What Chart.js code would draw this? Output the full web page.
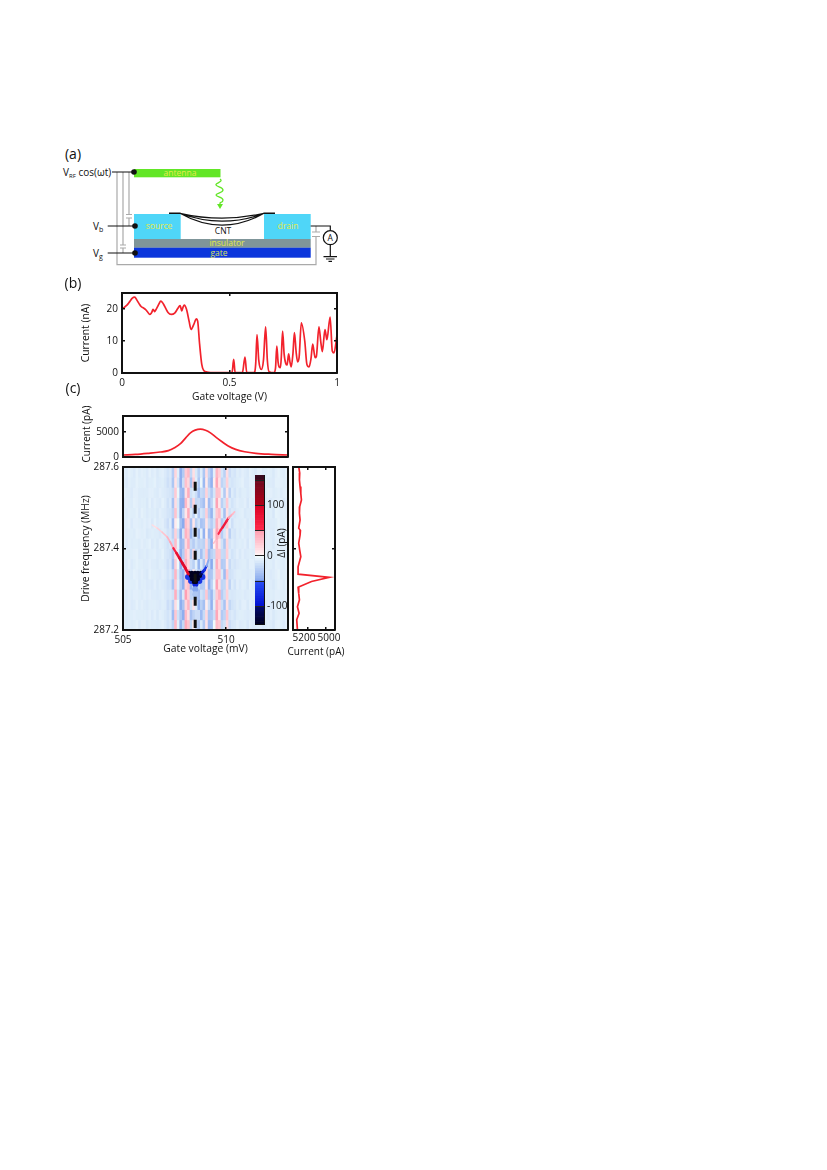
<!DOCTYPE html>
<html>
<head>
<meta charset="utf-8">
<title>Chart</title>
<script src="https://cdn.jsdelivr.net/npm/chart.js@4/dist/chart.umd.js"></script>
<style>
html, body { margin: 0; padding: 0; background: #fff; }
#page { position: relative; width: 827px; height: 1170px; overflow: hidden; font-family: "Open Sans", sans-serif; color: #111; }
canvas { position: absolute; }
svg { position: absolute; left: 0; top: 0; }
.lbl { position: absolute; font-size: 10px; line-height: 10px; white-space: nowrap; transform: translate(-50%, -50%); }
.lbl.up { transform: translate(-50%, -50%) rotate(-90deg); }
.panel { font-size: 14px; line-height: 16px; }
</style>
</head>
<body>
<div id="page">
<svg width="827" height="280" font-family="Open Sans, sans-serif">
  <!-- grey bias wires and capacitors -->
  <g fill="none" stroke="#aaa" stroke-width="1.2">
    <path d="M117 172V264.7H316V236.5M316 232V226"/>
    <path d="M123 172V245M123 248V253"/>
    <path d="M129 172V214.5M129 218V226"/>
    <path d="M120 245H126M120 248H126M126 214.5H132M126 218H132M312 232H320M312 236.5H320"/>
  </g>
  <rect x="134" y="169" width="86.5" height="8.3" fill="#62e626"/>
  <rect x="134" y="214" width="46.7" height="25" fill="#4fd6f8"/>
  <rect x="264" y="214" width="46.7" height="25" fill="#4fd6f8"/>
  <rect x="134" y="239" width="176.7" height="8.8" fill="#7f9599"/>
  <rect x="134" y="247.7" width="176.7" height="10" fill="#0b36dc"/>
  <path d="M220 179c4 3-5 4-4 6s7 2 7 5-7 3-7 5 7 2 7 5-3 2-3 3v3" fill="none" stroke="#62e626" stroke-width="1.3"/>
  <path d="M217 204h6l-3 5z" fill="#62e626"/>
  <!-- nanotube -->
  <g fill="none" stroke="#111">
    <path d="M169 213.3H180M264 213.3H275" stroke-width="1.6"/>
    <path d="M180 213.3Q222 237 264 213.3M180 213.3Q222 229 264 213.3M180 213.3Q222 223 264 213.3" stroke-width="1.2"/>
  </g>
  <!-- black leads -->
  <g fill="none" stroke="#111" stroke-width="1.2">
    <path d="M112 172H134M107.7 226H135M107.7 253H135"/>
    <path d="M310.7 226H330.3V230.5M330.3 245V256.7"/>
    <path d="M323.5 256.7H337M326 259H334.5M328.5 261.3H332"/>
    <circle cx="330.3" cy="237.7" r="7" fill="#fff"/>
  </g>
  <circle cx="134" cy="172" r="2.8" fill="#111"/>
  <circle cx="135" cy="226" r="2.8" fill="#111"/>
  <circle cx="135" cy="253" r="2.8" fill="#111"/>
  <g font-size="8.5" fill="#e4ea4a" text-anchor="middle">
    <text x="180" y="176">antenna</text>
    <text x="159" y="229">source</text>
    <text x="288" y="229">drain</text>
    <text x="227" y="246">insulator</text>
  </g>
  <text x="219" y="256" font-size="8.5" fill="#d8e060" text-anchor="middle">gate</text>
  <text x="223" y="233.5" font-size="8.5" fill="#111" text-anchor="middle">CNT</text>
  <text x="330.3" y="241" font-size="8.5" fill="#111" text-anchor="middle">A</text>
  <g font-size="10" fill="#111">
    <text x="63" y="175.5">V<tspan font-size="6" dy="2">RF</tspan><tspan dy="-2"> cos(ωt)</tspan></text>
    <text x="93" y="229.5">V<tspan font-size="7" dy="2">b</tspan></text>
    <text x="93" y="256.5">V<tspan font-size="7" dy="2">g</tspan></text>
  </g>
</svg>
<canvas id="curveB"></canvas>
<canvas id="curveTop"></canvas>
<canvas id="heat"></canvas>
<canvas id="colorbar"></canvas>
<canvas id="curveRight"></canvas>
</div>
<script>
// panel (b): gate sweep
const gateB = [0, .012, .023, .036, .048, .059, .07, .08, .09, .1, .11, .12, .129, .136, .14, .144, .148, .152, .157, .163, .172, .18, .187, .194, .204, .214, .229, .245, .26, .27, .274, .278, .284, .29, .3, .312, .321, .334, .346, .352, .361, .371, .38, .396, .43, .5,
    .512, .5195, .526, .56, .572, .58, .61, .617, .622, .628, .636, .648, .658, .668, .676, .684, .707, .714, .72, .726, .731, .737, .741, .747, .754, .762, .768, .775, .781, .787, .795, .802, .81, .817, .824, .834, .85, .86, .87, .879, .887, .898, .904, .916, .925, .932, .944, .953, .968, .978, .986, 1];
const currentB = [20.1, 20.6, 21.2, 22.3, 23.4, 23.7, 22.7, 21.6, 20.7, 20.3, 19.8, 19, 18.3, 18.7, 19.2, 19.9, 19.6, 19.2, 19.7, 20.4, 21.6, 22.5, 22.1, 21.4, 20.1, 18.9, 18.3, 18.7, 20.2, 21.1, 20.3, 19.4, 20.6, 21.2, 19.9, 16.2, 13.6, 15.2, 16.9, 16.2, 9, 2.7, .8, .3, .1, .1,
    .2, 4.25, .2, .1, 5, .2, .1, .3, 3, 12, 4, 1.1, 4, 14.4, 4, .4, .1, 1.5, 8.4, 3.4, 1.9, 1.7, 5, 13.1, 6, 2.9, 2.5, 6, 3.5, 1.9, 6, 12.6, 6.5, 3.5, 5, 15.7, 10, 2.7, 1.9, 4.5, 9, 4.8, 5.2, 14.4, 9.5, 6.7, 13.6, 10.4, 17.5, 6.9, 6.3, 11.8];
const xTicksB = [0, .5, 1];
const yTicksB = [0, 10, 20];

// panel (c), top trace
const gateTop = [505, 505.6, 506.2, 506.8, 507.2, 507.5, 507.8, 508.05, 508.27, 508.5, 508.75, 509, 509.24, 509.5, 509.8, 510.1, 510.46, 510.9, 511.44, 512.2, 513];
const currentTop = [400, 530, 740, 990, 1260, 1850, 2700, 3850, 4800, 5340, 5530, 5320, 4800, 3950, 3030, 2200, 1520, 1050, 730, 530, 400];

// panel (c), right trace
const freqRight = [287.601, 287.585, 287.568, 287.552, 287.535, 287.519, 287.503, 287.486, 287.47, 287.45, 287.444, 287.433, 287.413, 287.396, 287.38, 287.355, 287.337, 287.329, 287.319, 287.305, 287.29, 287.274, 287.257, 287.241, 287.225, 287.2];
const currentRight = [5297, 5286, 5289, 5282, 5274, 5267, 5286, 5289, 5282, 5297, 5278, 5282, 5297, 5286, 5274, 5304, 5304, 4960, 5156, 5304, 5297, 5289, 5311, 5293, 5319, 5311];

// heat map: 64 gate columns (505 to 513 mV), 16 frequency bands top to bottom, dI in pA
const heatFreqEdges = [287.6, 287.575, 287.55, 287.525, 287.5, 287.475, 287.45, 287.425, 287.4, 287.375, 287.35, 287.325, 287.3, 287.275, 287.25, 287.225, 287.2];
const heatRows = [
    [-8,-10,-7,-9,-11,-7,-10,-8,-9,-11,-7,-10,-8,-12,-9,-8,-11,-15,-12, -28,18,-8,-46,-30,24,34,-22,12,-12,-26,-10,-32,14,-24,-38,-8,36,22,-14,-26,14,-18, -12,-14,-9,-11,-8,-10,-12,-7,-9,-11,-8,-7,-10,-9,-7,-9,-12,-8,-6,-9,-10,-7],
    [-9,-11,-8,-10,-10,-7,-9,-9,-8,-11,-9,-9,-7,-11,-10,-9,-12,-17,-13, -32,10,-14,-46,-18,30,18,-34,22,-8,-32,-4,-40,6,-30,-44,4,44,12,-24,-18,20,-12, -14,-12,-10,-9,-7,-11,-11,-8,-8,-10,-9,-8,-9,-8,-9,-10,-11,-7,-7,-8,-9,-8],
    [-7,-9,-9,-11,-8,-8,-10,-10,-10,-10,-8,-8,-10,-11,-8,-10,-11,-13,-14, -20,24,-4,-38,-42,12,40,-16,-10,-18,-36,-20,-24,20,-18,-30,-14,30,28,-8,-30,8,-24, -10,-15,-9,-12,-9,-9,-11,-9,-7,-12,-7,-8,-11,-9,-6,-8,-10,-9,-8,-10,-8,-7],
    [-10,-8,-9,-10,-7,-8,-10,-9,-9,-12,-7,-11,-8,-10,-11,-7,-10,-16,-11, -34,14,-12,-44,-46,34,10,-28,18,-22,-20,-28,-36,4,-38,-24,-6,46,8,-26,-16,24,-10, -15,-11,-8,-10,-10,-8,-13,-8,-10,-9,-10,-7,-9,-10,-8,-11,-9,-8,-8,-7,-11,-8],
    [-8,-10,-8,-9,-9,-7,-11,-7,-9,-11,-9,-10,-9,-12,-8,-10,-11,-14,-15, -24,28,-10,-46,-24,8,42,-12,-24,-6,-30,-14,-20,22,-28,-42,-10,26,34,-10,-36,12,-16, -11,-13,-10,-9,-8,-12,-10,-10,-8,-10,-8,-9,-10,-7,-9,-9,-13,-6,-7,-9,-8,-9],
    [-9,-9,-7,-11,-8,-8,-9,-10,-8,-10,-8,-12,-7,-11,-9,-8,-13,-18,-10, -38,6,-2,-36,-48,30,20,-36,8,-26,-16,-34,-30,10,-20,-28,-16,40,16,-30,-20,26,-8, -17,-10,-9,-10,-9,-8,-12,-9,-11,-8,-10,-6,-10,-8,-9,-10,-10,-9,-6,-9,-9,-7],
    [-8,-10,-9,-9,-10,-7,-8,-9,-8,-12,-10,-9,-10,-10,-12,-9,-10,-15,-13, -26,20,-16,-48,-14,38,26,-40,-18,-10,-38,-8,-44,2,-40,-34,8,46,24,-28,-14,10,-26, -12,-14,-9,-11,-7,-10,-11,-8,-9,-11,-8,-8,-9,-10,-7,-10,-11,-7,-8,-8,-10,-6],
    [-7,-11,-8,-10,-9,-9,-10,-8,-10,-9,-7,-11,-9,-12,-8,-9,-12,-16,-12, -18,32,-6,-40,-36,16,38,-20,-28,-16,-24,-22,-26,16,-26,-46,2,34,10,-16,-32,18,-14, -10,-13,-10,-9,-10,-8,-13,-7,-9,-10,-9,-7,-11,-9,-8,-9,-12,-8,-7,-10,-8,-8],
    [-9,-9,-9,-9,-8,-7,-11,-10,-9,-11,-9,-9,-8,-11,-10,-7,-12,-14,-16, -30,12,-10,-46,-28,28,14,-30,14,-24,-16,-36,-18,24,-36,-26,-20,28,26,-20,-22,22,-10, -15,-12,-8,-12,-8,-11,-10,-9,-10,-9,-7,-9,-9,-7,-10,-10,-9,-9,-7,-7,-10,-9],
    [-8,-10,-7,-11,-9,-7,-9,-9,-10,-10,-8,-10,-10,-12,-9,-9,-11,-17,-13, -36,22,-2,-46,-20,40,16,-18,-26,-8,-42,-12,-34,12,-22,-48,-10,40,18,-30,-28,8,-20, -12,-14,-11,-10,-9,-9,-12,-8,-8,-12,-8,-7,-10,-10,-8,-9,-11,-7,-8,-9,-10,-7],
    [-9,-9,-9,-10,-7,-8,-10,-8,-10,-12,-7,-9,-9,-10,-11,-8,-10,-15,-11, -22,36,-12,-34,-44,14,44,-26,6,-14,-28,-24,-42,18,-34,-32,-12,30,30,-12,-38,24,-16, -14,-11,-9,-9,-10,-10,-11,-10,-9,-9,-9,-8,-9,-8,-9,-11,-10,-8,-6,-10,-9,-8],
    [-7,-8,-8,-9,-9,-7,-11,-9,-9,-11,-10,-11,-8,-12,-9,-10,-12,-16,-15, -34,24,-8,-30,-46,22,30,-44,-14,-20,-22,-30,-28,8,-44,-26,-4,46,14,-24,-22,14,-24, -10,-15,-8,-11,-8,-9,-13,-7,-10,-11,-8,-7,-10,-9,-7,-10,-12,-9,-7,-8,-10,-7],
    [-8,-10,-8,-10,-8,-8,-9,-10,-8,-10,-8,-10,-10,-11,-10,-8,-11,-14,-12, -16,40,-14,-38,-12,48,22,-24,-20,-28,-36,-16,-22,26,-28,-40,-14,24,38,-28,-18,20,-12, -13,-12,-10,-10,-9,-11,-10,-9,-8,-10,-9,-8,-11,-8,-9,-9,-10,-8,-8,-9,-9,-8],
    [-9,-9,-7,-11,-10,-7,-10,-8,-10,-11,-9,-9,-9,-10,-11,-9,-10,-18,-14, -28,14,-4,-46,-34,18,36,-16,10,-10,-44,-26,-36,4,-18,-44,-8,38,20,-18,-34,12,-22, -15,-13,-9,-12,-8,-8,-12,-8,-11,-9,-10,-7,-9,-10,-8,-11,-11,-7,-6,-10,-10,-9],
    [-7,-10,-9,-9,-8,-9,-9,-9,-9,-10,-8,-11,-8,-12,-8,-9,-12,-15,-11, -38,26,-16,-32,-46,32,12,-34,-24,-18,-18,-38,-20,16,-32,-30,-18,44,10,-30,-24,26,-14, -11,-14,-10,-9,-9,-10,-11,-10,-9,-11,-8,-9,-10,-8,-10,-8,-12,-9,-8,-8,-9,-7],
    [-8,-9,-8,-10,-9,-7,-11,-8,-8,-12,-9,-10,-10,-11,-10,-8,-11,-16,-13, -24,34,-8,-42,-22,42,28,-22,4,-24,-30,-12,-30,10,-38,-36,-2,32,26,-22,-16,16,-18, -13,-12,-8,-11,-10,-9,-13,-8,-10,-10,-9,-8,-11,-9,-7,-10,-13,-8,-7,-9,-11,-8]
];
const heatColumns = [505.06, 505.19, 505.31, 505.44, 505.56, 505.69, 505.81, 505.94, 506.06, 506.19, 506.31, 506.44, 506.56, 506.69, 506.81, 506.94, 507.06, 507.19, 507.31, 507.44, 507.56, 507.69, 507.81, 507.94, 508.06, 508.19, 508.31, 508.44, 508.56, 508.69, 508.81, 508.94, 509.06, 509.19, 509.31, 509.44, 509.56, 509.69, 509.81, 509.94, 510.06, 510.19, 510.31, 510.44, 510.56, 510.69, 510.81, 510.94, 511.06, 511.19, 511.31, 511.44, 511.56, 511.69, 511.81, 511.94, 512.06, 512.19, 512.31, 512.44, 512.56, 512.69, 512.81, 512.94];

// the V shaped resonance drawn over the streaks
const armLeftGate = [506.41, 506.66, 506.9, 507.15, 507.29, 507.44, 507.59, 507.73, 507.88, 508.02, 508.17];
const armLeftFreq = [287.458, 287.45, 287.44, 287.428, 287.416, 287.401, 287.389, 287.377, 287.364, 287.352, 287.337];
const armLeftDelta = [14, 20, 28, 38, 46, 60, 78, 88, 90, 88, 84];
const armBlueGate = [508.75, 508.85, 508.95, 509.05, 509.15];
const armBlueFreq = [287.337, 287.342, 287.347, 287.357, 287.372];
const armBlueDelta = [-110, -90, -70, -48, -30];
const armRightGate = [509.39, 509.54, 509.63, 509.73, 509.83, 509.93, 510.02, 510.12, 510.22, 510.32, 510.41];
const armRightFreq = [287.413, 287.423, 287.436, 287.445, 287.452, 287.46, 287.467, 287.475, 287.48, 287.485, 287.49];
const armRightDelta = [30, 42, 54, 62, 70, 70, 60, 48, 40, 32, 24];
const blobGate = [508.51, 508.3, 508.7, 508.15, 508.85, 508.5, 508.5,
    508.2, 508.34, 508.49, 508.63, 508.78, 508.3, 508.44, 508.59, 508.73, 508.34, 508.49, 508.63, 508.44, 508.54];
const blobFreq = [287.312, 287.32, 287.32, 287.33, 287.33, 287.3, 287.288,
    287.34, 287.34, 287.34, 287.34, 287.34, 287.333, 287.333, 287.333, 287.333, 287.325, 287.325, 287.325, 287.318, 287.318];
const blobDelta = [-85, -70, -70, -70, -70, -50, -32,
    -135, -135, -135, -135, -135, -135, -135, -135, -135, -135, -135, -135, -135, -135];
const dashGate = [508.5, 508.5];
const dashFreq = [287.564, 287.205];

// colour bar
const barEdges = [-135, -130, -125, -120, -115, -110, -105, -100, -95, -90, -85, -80, -75, -70, -65, -60, -55, -50, -45, -40, -35, -30, -25, -20, -15, -10, -5, 0, 5, 10, 15, 20, 25, 30, 35, 40, 45, 50, 55, 60, 65, 70, 75, 80, 85, 90, 95, 100, 105, 110, 115, 120, 125, 130, 135, 140, 145, 150, 160];
const barTicks = [-100, 0, 100];
const barLines = [-100, -50, 0, 50, 100, 150];

// colour map, one linear band between each pair of edges
const cmapEdges = [-135, -100, -50, 0, 50, 100, 150, 160];
const cmapLow = [[0, 0, 32], [0, 16, 208], [134, 168, 238], [255, 244, 245], [255, 42, 76], [176, 0, 24], [58, 10, 30]];
const cmapHigh = [[0, 10, 112], [42, 80, 245], [243, 253, 253], [255, 157, 176], [216, 0, 36], [106, 10, 32], [58, 10, 30]];

function colorFor(v) {
    let k = cmapEdges.length - 2;
    for (let i = 0; i < cmapEdges.length - 1; i++) {
        if (v < cmapEdges[i + 1]) { k = i; break; }
    }
    let t = (v - cmapEdges[k]) / (cmapEdges[k + 1] - cmapEdges[k]);
    t = Math.max(0, Math.min(1, t));
    let c = cmapLow[k].map((a, j) => Math.round(a + (cmapHigh[k][j] - a) * t));
    return 'rgb(' + c.join(',') + ')';
}

Chart.defaults.font.family = '"Open Sans", sans-serif';
Chart.defaults.font.size = 10;
Chart.defaults.color = '#111';
Chart.defaults.animation = false;
Chart.defaults.responsive = false;
Chart.defaults.events = [];
Chart.defaults.plugins.legend.display = false;
Chart.defaults.plugins.tooltip.enabled = false;

const RED = '#f2222c';
const TRACE = 1.7;

// scale sizes are fixed so the plot box does not depend on the tick labels
function fixSize(s, size) {
    if (s.isHorizontal()) s.height = size; else s.width = size;
    s.paddingTop = s.paddingBottom = s.paddingLeft = s.paddingRight = 0;
}

function axis(o) {
    return {
        type: 'linear',
        position: o.position,
        min: o.min,
        max: o.max,
        reverse: !!o.reverse,
        afterBuildTicks: function (s) { s.ticks = o.ticks.map(v => ({value: v})); },
        afterFit: function (s) { fixSize(s, o.size); },
        border: {display: true, color: '#111', width: 2, z: 1},
        grid: {drawOnChartArea: false, color: '#111', lineWidth: 1.5, tickLength: -3, z: 1},
        ticks: {display: o.labels !== false, padding: 7, autoSkip: false, maxRotation: 0, callback: v => String(v)},
        title: {display: !!o.title, text: o.title, padding: 0, color: '#111', font: {size: 10.3}}
    };
}

// places a canvas so that its chart area lands on the given plot box
function place(id, box, m) {
    let c = document.getElementById(id);
    c.width = box.r - box.l + m.l + m.r;
    c.height = box.b - box.t + m.t + m.b;
    c.style.left = (box.l - m.l) + 'px';
    c.style.top = (box.t - m.t) + 'px';
    return c;
}

function addLabel(text, x, y, cls) {
    let d = document.createElement('div');
    d.className = 'lbl ' + (cls || '');
    d.style.left = x + 'px';
    d.style.top = y + 'px';
    d.textContent = text;
    document.getElementById('page').appendChild(d);
}

addLabel('(a)', 73, 154, 'panel');
addLabel('(b)', 73, 283, 'panel');
addLabel('(c)', 73, 388, 'panel');
addLabel('Current (pA)', 86, 434, 'up');
addLabel('\u0394I (pA)', 281, 543, 'up');
addLabel('Current (pA)', 316, 651);
// these two sit apart from their ticks in the original, the ticks are too close for them
addLabel('5200', 304, 637);
addLabel('5000', 329, 637);

// (b)
new Chart(place('curveB', {l: 122, t: 293, r: 337, b: 373}, {l: 42, t: 6, r: 12, b: 30}), {
    type: 'scatter',
    data: {
        datasets: [{
            data: gateB.map((v, i) => ({x: v, y: currentB[i]})),
            showLine: true,
            borderColor: RED,
            borderWidth: TRACE,
            pointRadius: 0,
            cubicInterpolationMode: 'monotone'
        }]
    },
    options: {
        layout: {padding: {top: 6, right: 12}},
        scales: {
            x: axis({position: 'bottom', min: 0, max: 1, ticks: xTicksB, size: 30, title: 'Gate voltage (V)'}),
            xTop: axis({position: 'top', min: 0, max: 1, ticks: [.5], size: 0, labels: false}),
            y: axis({position: 'left', min: 0, max: 25, ticks: yTicksB, size: 42, title: 'Current (nA)'}),
            yRight: axis({position: 'right', min: 0, max: 25, ticks: [10, 20], size: 0, labels: false})
        }
    }
});

// (c) top trace
new Chart(place('curveTop', {l: 123, t: 416, r: 288, b: 457}, {l: 43, t: 6, r: 6, b: 6}), {
    type: 'scatter',
    data: {
        datasets: [{
            data: gateTop.map((v, i) => ({x: v, y: currentTop[i]})),
            showLine: true,
            borderColor: RED,
            borderWidth: TRACE,
            pointRadius: 0,
            cubicInterpolationMode: 'monotone'
        }]
    },
    options: {
        layout: {padding: {top: 6, right: 6}},
        scales: {
            x: axis({position: 'bottom', min: 505, max: 513, ticks: [510], size: 6, labels: false}),
            xTop: axis({position: 'top', min: 505, max: 513, ticks: [510], size: 0, labels: false}),
            y: axis({position: 'left', min: 0, max: 8160, ticks: [0, 5000], size: 43}),
            yRight: axis({position: 'right', min: 0, max: 8160, ticks: [5000], size: 0, labels: false})
        }
    }
});

// (c) heat map, one band of floating bars per frequency row
let heatSets = heatRows.map((row, r) => ({
    type: 'bar',
    xAxisID: 'xCol',
    order: 3,
    data: row.map(() => [heatFreqEdges[r + 1], heatFreqEdges[r]]),
    backgroundColor: row.map(colorFor),
    barPercentage: 1,
    categoryPercentage: 1,
    grouped: false
}));

function armSet(gate, freq, delta) {
    return {
        type: 'scatter',
        xAxisID: 'x',
        order: 2,
        data: gate.map((v, i) => ({x: v, y: freq[i]})),
        showLine: true,
        pointRadius: 0,
        borderCapStyle: 'round',
        segment: {
            borderColor: ctx => colorFor(delta[ctx.p0DataIndex]),
            borderWidth: ctx => 1 + Math.min(Math.abs(delta[ctx.p0DataIndex]), 90) / 50
        }
    };
}
heatSets.push(armSet(armLeftGate, armLeftFreq, armLeftDelta));
heatSets.push(armSet(armBlueGate, armBlueFreq, armBlueDelta));
heatSets.push(armSet(armRightGate, armRightFreq, armRightDelta));
heatSets.push({
    type: 'scatter',
    xAxisID: 'x',
    order: 2,
    data: blobGate.map((v, i) => ({x: v, y: blobFreq[i]})),
    backgroundColor: blobDelta.map(colorFor),
    pointRadius: blobDelta.map(v => v < -100 ? 2.2 : 3),
    pointBorderWidth: 0
});
heatSets.push({
    type: 'scatter',
    xAxisID: 'x',
    order: 1,
    data: dashGate.map((v, i) => ({x: v, y: dashFreq[i]})),
    showLine: true,
    borderColor: '#111',
    borderWidth: 3,
    borderDash: [9, 14],
    pointRadius: 0
});
new Chart(place('heat', {l: 123, t: 467, r: 288, b: 630}, {l: 43, t: 6, r: 6, b: 25}), {
    data: {labels: heatColumns, datasets: heatSets},
    options: {
        layout: {padding: {top: 6, right: 6}},
        scales: {
            xCol: {type: 'category', display: false, offset: true, grid: {display: false}},
            x: axis({position: 'bottom', min: 505, max: 513, ticks: [505, 510], size: 25, title: 'Gate voltage (mV)'}),
            xTop: axis({position: 'top', min: 505, max: 513, ticks: [510], size: 0, labels: false}),
            y: axis({position: 'left', min: 287.2, max: 287.6, ticks: [287.2, 287.4, 287.6], size: 43, title: 'Drive frequency (MHz)'}),
            yRight: axis({position: 'right', min: 287.2, max: 287.6, ticks: [], size: 0, labels: false})
        }
    }
});

// colour bar
let barSets = [];
for (let i = 0; i < barEdges.length - 1; i++) {
    barSets.push({
        data: [[barEdges[i], barEdges[i + 1]]],
        backgroundColor: colorFor((barEdges[i] + barEdges[i + 1]) / 2),
        barPercentage: 1,
        categoryPercentage: 1,
        grouped: false
    });
}
let barY = axis({position: 'right', min: -135, max: 160, ticks: barLines, size: 26});
barY.border = {display: true, color: '#111', width: 1, z: 1};
barY.grid = {drawOnChartArea: true, drawTicks: false, color: '#222', lineWidth: 1, z: 1};
barY.ticks = {padding: 3, crossAlign: 'near', autoSkip: false, maxRotation: 0,
    callback: v => barTicks.indexOf(v) >= 0 ? String(v) : ''};
new Chart(place('colorbar', {l: 255, t: 475, r: 264, b: 624}, {l: 2, t: 2, r: 26, b: 2}), {
    type: 'bar',
    data: {labels: ['dI'], datasets: barSets},
    options: {
        layout: {padding: {top: 2, left: 2, bottom: 2}},
        scales: {
            x: {type: 'category', offset: true, ticks: {display: false},
                afterFit: function (s) { fixSize(s, 0); },
                border: {display: true, color: '#111', width: 1, z: 1}, grid: {display: false}},
            y: barY
        }
    }
});

// (c) right trace, current axis runs backwards
new Chart(place('curveRight', {l: 293, t: 467, r: 335, b: 630}, {l: 20, t: 6, r: 20, b: 25}), {
    type: 'scatter',
    data: {
        datasets: [{
            data: currentRight.map((v, i) => ({x: v, y: freqRight[i]})),
            showLine: true,
            borderColor: RED,
            borderWidth: TRACE,
            pointRadius: 0
        }]
    },
    options: {
        layout: {padding: {top: 6, right: 20}},
        scales: {
            x: axis({position: 'bottom', min: 4897, max: 5360, reverse: true, ticks: [5200, 5000], size: 25, labels: false}),
            xTop: axis({position: 'top', min: 4897, max: 5360, reverse: true, ticks: [5200, 5000], size: 0, labels: false}),
            y: axis({position: 'left', min: 287.2, max: 287.6, ticks: [287.4], size: 20, labels: false}),
            yRight: axis({position: 'right', min: 287.2, max: 287.6, ticks: [287.4], size: 0, labels: false})
        }
    }
});
</script>
</body>
</html>
